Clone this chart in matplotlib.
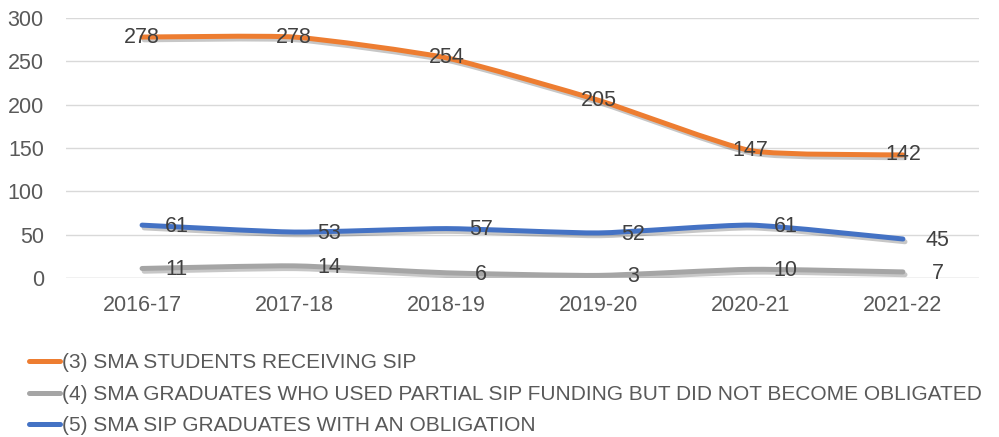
import numpy as np
import matplotlib
matplotlib.use('Agg')
import matplotlib.pyplot as plt
from matplotlib.path import Path
from matplotlib.patches import PathPatch
from matplotlib.lines import Line2D
import matplotlib.patheffects as pe

years = ['2016-17', '2017-18', '2018-19', '2019-20', '2020-21', '2021-22']
receiving = [278, 278, 254, 205, 147, 142]
partial = [11, 14, 6, 3, 10, 7]
obligated = [61, 53, 57, 52, 61, 45]

names = ['(3) SMA STUDENTS RECEIVING SIP',
         '(4) SMA GRADUATES WHO USED PARTIAL SIP FUNDING BUT DID NOT BECOME OBLIGATED',
         '(5) SMA SIP GRADUATES WITH AN OBLIGATION']
colors = ['#ED7D31', '#A5A5A5', '#4472C4']

font = ['Liberation Sans Narrow', 'Liberation Sans']
txt = '#404040'
fs = 15.5


def smooth_path(xs, ys, k=0.09):
    # cubic bezier through the points, mild tension (like Excel smoothed lines)
    p = np.column_stack([xs, ys]).astype(float)
    ext = np.vstack([p[0], p, p[-1]])
    verts = [p[0]]
    codes = [Path.MOVETO]
    for i in range(len(p) - 1):
        p0, p1, p2, p3 = ext[i], ext[i + 1], ext[i + 2], ext[i + 3]
        c1 = p1 + (p2 - p0) * k
        c2 = p2 - (p3 - p1) * k
        verts += [c1, c2, p2]
        codes += [Path.CURVE4] * 3
    return Path(verts, codes)


fig = plt.figure(figsize=(9.99, 4.37), dpi=100)
ax = fig.add_axes([66 / 999, 1 - 278 / 437, 913 / 999, 260 / 437])
x = np.arange(len(years))

series = [receiving, partial, obligated]
for vals, col, z in zip(series, colors, [4, 2, 3]):
    patch = PathPatch(smooth_path(x, vals), fill=False, edgecolor=col, lw=3.6,
                      capstyle='round', joinstyle='round', zorder=z)
    patch.set_path_effects([pe.SimpleLineShadow(offset=(1.5, -2), shadow_color='k', alpha=0.22),
                            pe.Normal()])
    ax.add_patch(patch)

for xi, v in zip(x, receiving):
    ax.annotate(str(v), (xi, v), ha='center', va='center', fontsize=fs, color=txt,
                family='Liberation Sans', zorder=6)
for vals in (partial, obligated):
    for xi, v in zip(x, vals):
        ax.annotate(str(v), (xi, v), xytext=(25, -1), textcoords='offset points',
                    ha='center', va='center', fontsize=fs, color=txt,
                    family='Liberation Sans', zorder=6)

ax.set_xlim(-0.5, 5.5)
ax.set_ylim(0, 300)
ax.set_yticks(range(0, 301, 50))
ax.set_xticks(x)
ax.set_xticklabels(years)
ax.yaxis.grid(True, color='#D9D9D9', lw=1)
ax.set_axisbelow(True)
for s in ax.spines.values():
    s.set_visible(False)
ax.axhline(0, color='#D9D9D9', lw=1, zorder=1)
ax.tick_params(length=0, labelsize=fs, colors='#595959')
ax.tick_params(axis='x', pad=12)
ax.tick_params(axis='y', pad=16)
for lab in ax.get_xticklabels() + ax.get_yticklabels():
    lab.set_family('Liberation Sans')

handles = [Line2D([], [], color=c, lw=3.6, solid_capstyle='round') for c in colors]
fig.legend(handles, names, loc='upper left', bbox_to_anchor=(19 / 999, 1 - 343 / 437),
           frameon=False, handlelength=1.45, handletextpad=0.1, labelspacing=0.6,
           prop={'family': font, 'size': 15}, labelcolor='#595959', borderpad=0)

fig.savefig('out.png', dpi=100)
